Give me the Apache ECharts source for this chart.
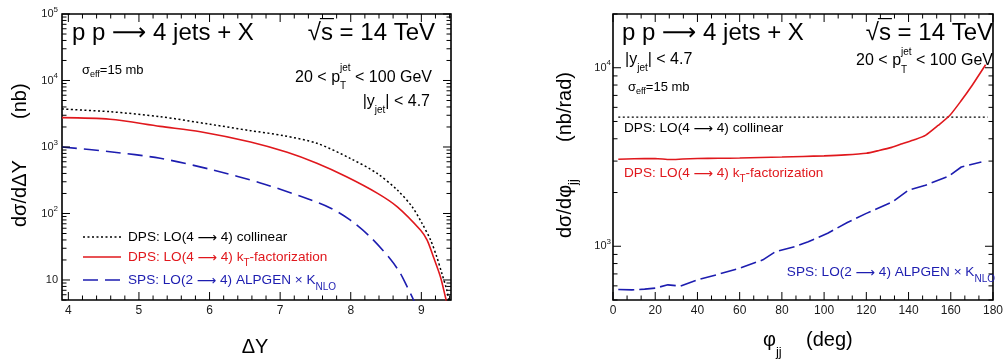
<!DOCTYPE html>
<html>
<head>
<meta charset="utf-8">
<script src="https://cdn.jsdelivr.net/npm/echarts@6/dist/echarts.min.js"></script>
<style>
  html, body { margin: 0; padding: 0; background: #fff; }
  #chart { width: 1006px; height: 361px; }
</style>
</head>
<body>
<div id="chart"></div>
<script>
// ---- ΔY distribution (nb), left panel ----
const dY_collinear = [[3.91,3725],[4.59,3395],[5.30,2856],[6.01,2194],[6.58,1760],[7.05,1480],[7.52,1137],[7.99,676],[8.37,403],[8.66,225],[8.87,126],[9.01,71],[9.13,40],[9.22,22],[9.29,12.6],[9.36,7.1],[9.39,5.0],[9.41,4.2]];
const dY_kt = [[3.91,2760],[4.59,2610],[5.30,2040],[5.87,1700],[6.58,1190],[7.10,832],[7.52,569],[7.94,357],[8.38,201],[8.66,126],[8.99,56],[9.08,40],[9.17,22.4],[9.27,11.2],[9.34,5.6],[9.37,4.2]];
const dY_sps = [[3.91,1000],[4.59,849],[5.30,676],[6.05,451],[6.72,288],[7.28,183],[7.71,121],[7.99,80],[8.28,44],[8.56,20.7],[8.70,12.7],[8.80,7.85],[8.89,5.0],[8.92,4.2]];

// ---- φjj distribution (nb/rad), right panel ----
const phi_collinear = [[2.5,5290],[90,5290],[177.5,5290]];
const phi_kt = [[2.5,3070],[10,3090],[20,3100],[27,3060],[33,3080],[40,3100],[50,3110],[60,3120],[70,3140],[80,3160],[90,3185],[100,3210],[110,3250],[120,3320],[126,3440],[132,3580],[137,3750],[143,3960],[148,4180],[154,4750],[159.5,5400],[165,6550],[169.5,7770],[176.5,10400]];
const phi_sps = [[2.5,572],[9,570],[15,575],[20,583],[26,608],[32,598],[40,649],[49,692],[60,754],[71,839],[77,933],[86,995],[92.5,1061],[101.7,1182],[111,1358],[120,1528],[132.5,1774],[140,2061],[148,2197],[159,2467],[165,2780],[174.5,2965]];

// ---- axes ----
const leftXRange = [3.91, 9.42];
const leftYRange = [5, 1e5];
const rightXRange = [0, 180];
const rightYRange = [500, 20000];
const leftXTicks = [4, 5, 6, 7, 8, 9];
const leftXMinorStep = 0.2;
const rightXTicks = [0, 20, 40, 60, 80, 100, 120, 140, 160, 180];
const rightXMinorStep = 20 / 3;
const leftYDecades = [1, 2, 3, 4, 5];
const rightYDecades = [2, 3, 4];

const FONT = '"Liberation Sans", Arial, Helvetica, sans-serif';
const ARROW_FONT = '"DejaVu Sans", sans-serif';
const RED = '#e0181d';
const BLUE = '#1d1db0';
const LEG = 13.6;

const mctx = document.createElement('canvas').getContext('2d');
function textWidth(t, size, family) { mctx.font = size + 'px ' + (family || FONT); return mctx.measureText(t).width; }

// Lays out a run of text pieces (with sub/superscripts) as a graphic group.
function run(x, y, pieces, opt) {
  opt = opt || {};
  const base = opt.size || 14, color = opt.color || '#000';
  let cur = 0, hold = 0;
  const placed = [];
  for (const p0 of pieces) {
    const p = typeof p0 === 'string' ? { t: p0 } : p0;
    const size = p.size || base;
    const w = textWidth(p.t, size, p.font);
    placed.push({ t: p.t, size, font: p.font || FONT, x: cur, dy: p.dy || 0, w, over: p.over, color: p.color || color });
    if (p.hold) { hold = Math.max(hold, w); }
    else { cur += Math.max(w, hold); hold = 0; }
  }
  const total = cur;
  const x0 = opt.align === 'right' ? -total : opt.align === 'center' ? -total / 2 : 0;
  const children = [];
  for (const q of placed) {
    children.push({ type: 'text', x: x0 + q.x, y: q.dy, silent: true,
      style: { text: q.t, fill: q.color, font: q.size + 'px ' + q.font, align: 'left', verticalAlign: 'middle' } });
    if (q.over) {
      const yy = q.dy - q.size * 0.6;
      children.push({ type: 'line', silent: true,
        shape: { x1: x0 + q.x - 1, y1: yy, x2: x0 + q.x + q.w + 1, y2: yy },
        style: { stroke: q.color, lineWidth: 1.2 } });
    }
  }
  return { type: 'group', x, y, rotation: opt.rotation || 0, children };
}
// long thin arrow between the two sides of a process
function arrow(size, dy) { return { t: '\u27f6', size: size, font: ARROW_FONT, dy: dy || 0 }; }

function sample(x1, x2, y, color, dash) {
  return { type: 'line', silent: true, shape: { x1, y1: y, x2, y2: y },
    style: { stroke: color, lineWidth: 1.6, lineDash: dash || null } };
}

// Tick marks: kind 0/1 = x major/minor, 2/3 = y major/minor; drawn inward on all four sides.
function tickData(xr, yr, xMajor, xMinorStep, decades) {
  const d = [];
  xMajor.forEach(v => d.push([v, yr[0], 0]));
  const start = Math.ceil((xr[0] - 1e-9) / xMinorStep);
  for (let i = start; i * xMinorStep <= xr[1] + 1e-9; i++) {
    const v = i * xMinorStep;
    if (!xMajor.some(m => Math.abs(m - v) < 1e-6)) d.push([v, yr[0], 1]);
  }
  for (let e = Math.floor(Math.log10(yr[0])); e <= Math.ceil(Math.log10(yr[1])); e++) {
    for (let k = 1; k <= 9; k++) {
      const v = k * Math.pow(10, e);
      if (v < yr[0] * 0.999 || v > yr[1] * 1.001) continue;
      d.push([xr[0], v, k === 1 && decades.includes(e) ? 2 : 3]);
    }
  }
  return d;
}
function tickRenderer(xr, yr) {
  return function (params, api) {
    const a = api.value(0), b = api.value(1), k = api.value(2);
    const L = (k === 0 || k === 2) ? 8 : 4.5;
    const style = { stroke: '#000', lineWidth: 1 };
    if (k < 2) {
      const p = api.coord([a, yr[0]]), q = api.coord([a, yr[1]]);
      return { type: 'group', children: [
        { type: 'line', shape: { x1: p[0], y1: p[1], x2: p[0], y2: p[1] - L }, style },
        { type: 'line', shape: { x1: q[0], y1: q[1], x2: q[0], y2: q[1] + L }, style }] };
    }
    const p = api.coord([xr[0], b]), q = api.coord([xr[1], b]);
    return { type: 'group', children: [
      { type: 'line', shape: { x1: p[0], y1: p[1], x2: p[0] + L, y2: p[1] }, style },
      { type: 'line', shape: { x1: q[0], y1: q[1], x2: q[0] - L, y2: q[1] }, style }] };
  };
}

function powLabel(v) {
  const e = Math.log10(v);
  if (Math.abs(e - Math.round(e)) > 1e-6) return '';
  const n = Math.round(e);
  if (n === 1) return '{b|10}';
  return '{b|10}{s|' + n + '}';
}
const powRich = {
  b: { fontSize: 11, fontFamily: FONT, color: '#1a1a1a' },
  s: { fontSize: 8, fontFamily: FONT, color: '#1a1a1a', padding: [0, 0, 9, 0] }
};
function intLabel(v) { return Math.abs(v - Math.round(v)) < 1e-6 ? String(Math.round(v)) : ''; }

const grids = [
  { left: 62, top: 14, width: 389, height: 286 },
  { left: 613, top: 14, width: 390, height: 286 }
].map(g => Object.assign(g, { show: true, borderColor: '#000', borderWidth: 1.6, backgroundColor: 'transparent', containLabel: false }));

const xAxes = [
  { gridIndex: 0, type: 'value', min: leftXRange[0], max: leftXRange[1], splitNumber: 10 },
  { gridIndex: 1, type: 'value', min: rightXRange[0], max: rightXRange[1], interval: 20 }
].map(a => Object.assign(a, {
  axisLine: { show: false }, axisTick: { show: false }, splitLine: { show: false },
  axisLabel: { formatter: intLabel, interval: 0, fontSize: 12, fontFamily: FONT, color: '#1a1a1a', margin: 5 }
}));

const yAxes = [
  { gridIndex: 0, type: 'log', logBase: 10, min: leftYRange[0], max: leftYRange[1], axisLabel: { margin: 4 } },
  { gridIndex: 1, type: 'log', logBase: 10, min: rightYRange[0], max: rightYRange[1], axisLabel: { margin: 2 } }
].map(a => Object.assign(a, {
  axisLine: { show: false }, axisTick: { show: false }, splitLine: { show: false },
  axisLabel: Object.assign(a.axisLabel, { formatter: powLabel, rich: powRich, showMinLabel: true, showMaxLabel: true })
}));

function curve(xi, data, color, dash, smooth, width) {
  return { type: 'line', xAxisIndex: xi, yAxisIndex: xi, data, symbol: 'none', showSymbol: false,
    smooth: smooth, clip: true, silent: true, z: 2,
    lineStyle: { color, width: width || 1.6, type: dash || 'solid' } };
}

const series = [
  curve(0, dY_collinear, '#000', [2, 2.5], 0.3, 1.5),
  curve(0, dY_kt, RED, null, 0.3),
  curve(0, dY_sps, BLUE, [15, 7], 0.3),
  curve(1, phi_collinear, '#000', [2, 2.5], false, 1.4),
  curve(1, phi_kt, RED, null, 0.2),
  curve(1, phi_sps, BLUE, [16, 5], false),
  { type: 'custom', xAxisIndex: 0, yAxisIndex: 0, silent: true, clip: false, z: 5,
    encode: { x: 0, y: 1 }, renderItem: tickRenderer(leftXRange, leftYRange),
    data: tickData(leftXRange, leftYRange, leftXTicks, leftXMinorStep, leftYDecades) },
  { type: 'custom', xAxisIndex: 1, yAxisIndex: 1, silent: true, clip: false, z: 5,
    encode: { x: 0, y: 1 }, renderItem: tickRenderer(rightXRange, rightYRange),
    data: tickData(rightXRange, rightYRange, rightXTicks, rightXMinorStep, rightYDecades) }
];

const TITLE = ['p p ', arrow(24, 1), ' 4 jets + X'];
const ptCut = ['20 < p', { t: 'jet', size: 10, dy: -9, hold: true }, { t: 'T', size: 10, dy: 9 }, ' < 100 GeV'];
const yCut = ['|y', { t: 'jet', size: 10, dy: 8 }, '| < 4.7'];
const sigEff = ['\u03c3', { t: 'eff', size: 9, dy: 5 }, '=15 mb'];
const sqrtS = ['\u221a', { t: 's', over: true }, ' = 14 TeV'];
const labCol = ['DPS: LO(4 ', arrow(LEG, 1), ' 4) collinear'];
const labKt = ['DPS: LO(4 ', arrow(LEG, 1), ' 4) k', { t: 'T', size: 10, dy: 6 }, '-factorization'];
const labSps = ['SPS: LO(2 ', arrow(LEG, 1), ' 4) ALPGEN \u00d7 K', { t: 'NLO', size: 10, dy: 7 }];

const graphic = [
  // left panel texts
  run(72, 33, TITLE, { size: 24 }),
  run(435, 33, sqrtS, { size: 24, align: 'right' }),
  run(82, 70, sigEff, { size: 13 }),
  run(432, 77.5, ptCut, { size: 16, align: 'right' }),
  run(430, 102, yCut, { size: 16, align: 'right' }),
  sample(83, 121, 237, '#000', [2, 2.5]),
  sample(83, 121, 257, RED),
  sample(83, 121, 280, BLUE, [15, 7]),
  run(128, 237, labCol, { size: LEG }),
  run(128, 257, labKt, { size: LEG, color: RED }),
  run(128, 280, labSps, { size: LEG, color: BLUE }),
  run(20, 227, ['d\u03c3/d\u0394Y'], { size: 20, rotation: Math.PI / 2 }),
  run(20, 119, ['(nb)'], { size: 20, rotation: Math.PI / 2 }),
  run(255, 347, ['\u0394Y'], { size: 20, align: 'center' }),
  // right panel texts
  run(622, 33, TITLE, { size: 24 }),
  run(993, 33, sqrtS, { size: 24, align: 'right' }),
  run(625, 60, yCut, { size: 16 }),
  run(993, 61, ptCut, { size: 16, align: 'right' }),
  run(628, 87, sigEff, { size: 13 }),
  run(624, 128, labCol, { size: LEG }),
  run(624, 173, labKt, { size: LEG, color: RED }),
  run(995, 272, labSps, { size: LEG, color: BLUE, align: 'right' }),
  run(565, 238, ['d\u03c3/d\u03c6', { t: 'jj', size: 13, dy: 8 }], { size: 20, rotation: Math.PI / 2 }),
  run(565, 142, ['(nb/rad)'], { size: 20, rotation: Math.PI / 2 }),
  run(763, 340, ['\u03c6', { t: 'jj', size: 13, dy: 12 }], { size: 20 }),
  run(806, 340, ['(deg)'], { size: 20 })
];

const chart = echarts.init(document.getElementById('chart'), null, { renderer: 'canvas' });
chart.setOption({
  animation: false,
  backgroundColor: '#fff',
  grid: grids,
  xAxis: xAxes,
  yAxis: yAxes,
  series,
  graphic
});
</script>
</body>
</html>
